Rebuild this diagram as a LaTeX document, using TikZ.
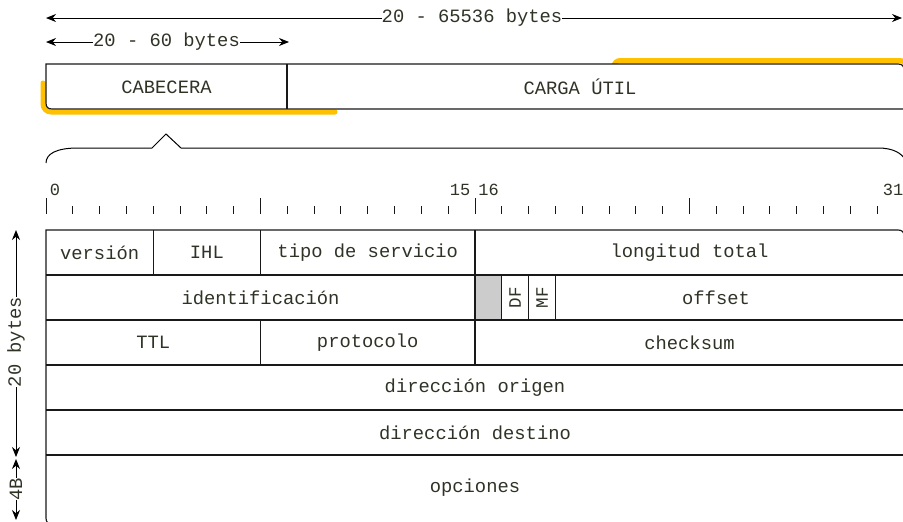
\documentclass[tikz,border=0pt]{standalone}
\usepackage{fontspec}
\setmainfont{Liberation Mono}
\usetikzlibrary{arrows.meta}
\definecolor{ink}{HTML}{2E3326}
\definecolor{hl}{HTML}{FFC000}
\definecolor{pad}{HTML}{CCCCCC}
\begin{document}
\begin{tikzpicture}[x=1pt,y=-1pt,
  lbl/.style={text=ink, font=\fontsize{18.8}{20}\selectfont, inner sep=0pt},
  num/.style={text=ink, font=\fontsize{17}{18}\selectfont, inner sep=0pt},
  flag/.style={text=ink, font=\fontsize{17.5}{18}\selectfont, inner sep=0pt, rotate=90},
  edge/.style={draw=black!90, line width=1.2pt},
  tick/.style={draw=black!90, line width=1pt},
  dim/.style={draw=black, line width=1pt, -{Stealth[length=10pt,width=8pt]}},
  glow/.style={draw=hl, line width=5pt, line cap=round}]
\useasboundingbox (0,0) rectangle (903,522);
\def\bw{26.8125}

% overall length arrows
\coordinate (t1a) at (46,18);
\coordinate (t1b) at (902,18);
\node[lbl] (t1l) at (472,18) {20 - 65536 bytes};
\draw[dim] (t1l.west) -- (t1a);
\draw[dim] (t1l.east) -- (t1b);

\coordinate (t2a) at (46,42);
\coordinate (t2b) at (289,42);
\node[lbl] (t2l) at (166.5,42) {20 - 60 bytes};
\draw[dim] (t2l.west) -- (t2a);
\draw[dim] (t2l.east) -- (t2b);

% highlight strokes behind the packet
\draw[glow, rounded corners=8pt] (43,83) -- (43,112) -- (335,112);
\draw[glow, rounded corners=6pt] (614,67) -- (614,60.5) -- (906,60.5) -- (906,67);

% packet: header + payload
\draw[edge, fill=white] (46,64) -- (898,64) .. controls (902,64) and (904,66) .. (904,70)
  -- (904,109) -- (52,109) .. controls (48,109) and (46,107) .. (46,103) -- cycle;
\draw[edge] (287,64) -- (287,109);
\node[lbl] (cab) at (166.5,87) {CABECERA};
\node[lbl] (carga) at (580,87) {CARGA ÚTIL};

% brace expanding the header
\draw[line width=1pt] (46,163) .. controls (46,154) and (56,148) .. (78,148) -- (152,148)
  -- (166,134) -- (181,148) -- (878,148) .. controls (893,148) and (902,153) .. (906,161);

% bit ruler: a short tick per bit, a tall one every byte
\foreach \i in {0,...,31} \draw[tick] (46+\i*\bw,206) -- (46+\i*\bw,214);
\foreach \i in {0,8,16,24} \draw[tick] (46+\i*\bw,198) -- (46+\i*\bw,214);
\node[num] (b0) at (55,190) {0};
\node[num] (b15) at (460,190) {15};
\node[num] (b16) at (488.5,190) {16};
\node[num] (b31) at (893,190) {31};

% header fields
\fill[pad] (46+16*\bw,275) rectangle (46+17*\bw,320);
\draw[edge] (46,230) -- (898,230) .. controls (902,230) and (904,232) .. (904,236)
  -- (904,524) -- (52,524) .. controls (48,524) and (46,522) .. (46,518) -- cycle;
\foreach \y in {275,320,365,410,455} \draw[edge] (46,\y) -- (904,\y);
\foreach \b in {4,8,16} \draw[edge] (46+\b*\bw,230) -- (46+\b*\bw,275);
\foreach \b in {16,17,18,19} \draw[edge] (46+\b*\bw,275) -- (46+\b*\bw,320);
\foreach \b in {8,16} \draw[edge] (46+\b*\bw,320) -- (46+\b*\bw,365);

\node[lbl] (ver) at (46+2*\bw,252.5) {versión};
\node[lbl] (ihl) at (46+6*\bw,252.5) {IHL};
\node[lbl] (tos) at (46+12*\bw,252.5) {tipo de servicio};
\node[lbl] (len) at (46+24*\bw,252.5) {longitud total};
\node[lbl] (ident) at (46+8*\bw,297.5) {identificación};
\node[flag] (df) at (46+17.5*\bw,297.5) {DF};
\node[flag] (mf) at (46+18.5*\bw,297.5) {MF};
\node[lbl] (off) at (716,297.5) {offset};
\node[lbl] (ttl) at (46+4*\bw,342.5) {TTL};
\node[lbl] (proto) at (46+12*\bw,342.5) {protocolo};
\node[lbl] (chk) at (46+24*\bw,342.5) {checksum};
\node[lbl] (src) at (475,387.5) {dirección origen};
\node[lbl] (dst) at (475,432.5) {dirección destino};
\node[lbl] (opt) at (475,488) {opciones};

% size arrows on the left
\coordinate (l1a) at (16,230);
\coordinate (l1b) at (16,457);
\node[lbl, rotate=90] (l1l) at (16,342) {20 bytes};
\draw[dim] (l1l.east) -- (l1a);
\draw[dim] (l1l.west) -- (l1b);

\coordinate (l2a) at (16,459);
\coordinate (l2b) at (16,520);
\node[lbl, rotate=90] (l2l) at (16,489) {4B};
\draw[dim] (l2l.east) -- (l2a);
\draw[dim] (l2l.west) -- (l2b);
\end{tikzpicture}
\end{document}
